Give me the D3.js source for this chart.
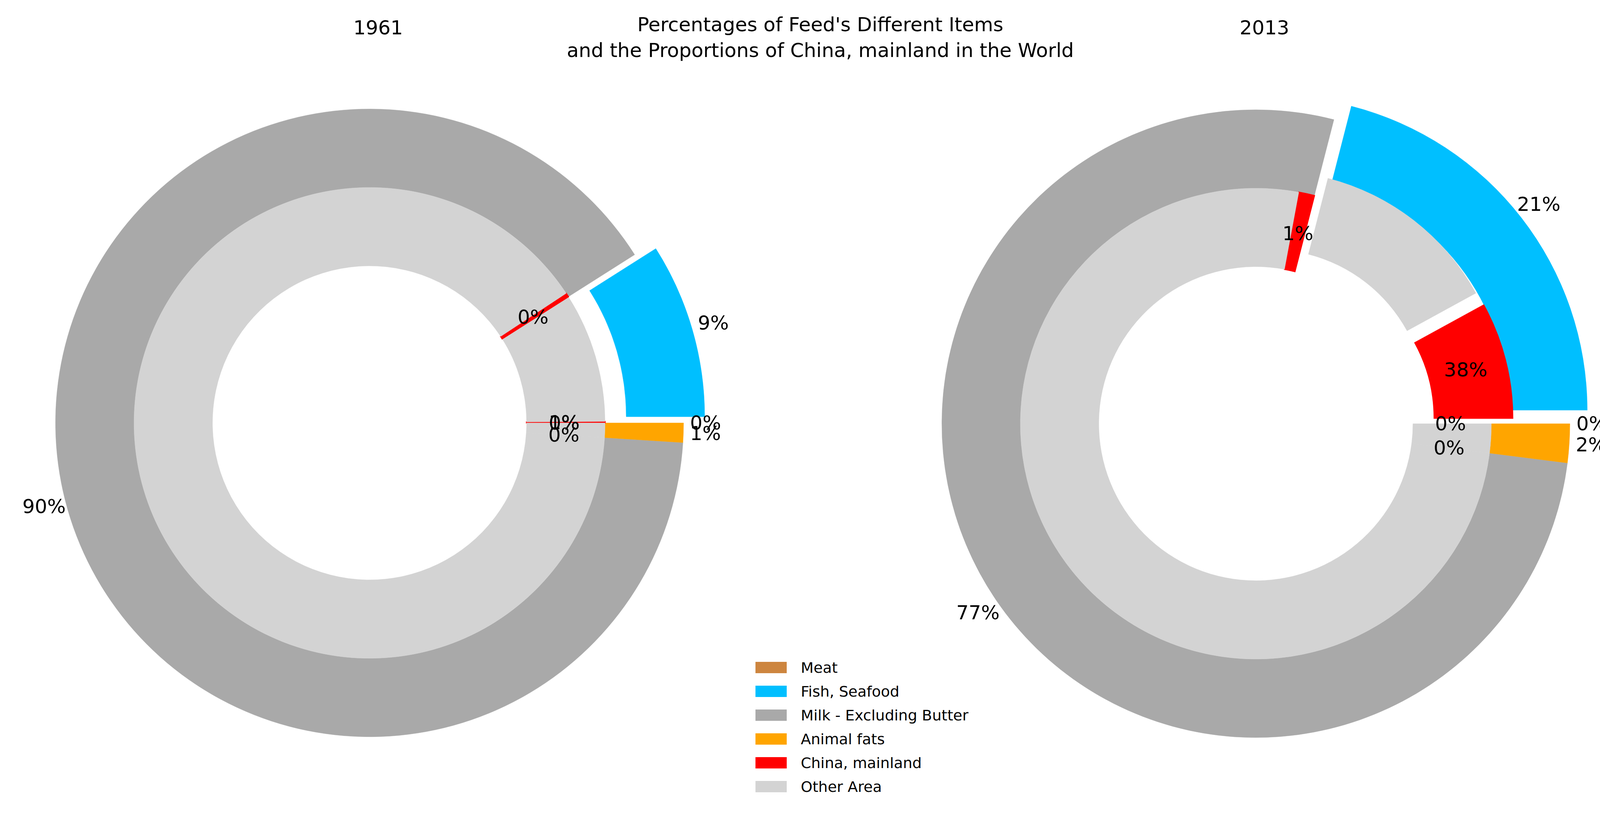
<!DOCTYPE html><html><head><meta charset="utf-8">
<script src="https://cdn.jsdelivr.net/npm/d3@7"></script>
<style>body{margin:0;background:#fff}text{font-family:"DejaVu Sans"}</style></head><body>
<script>
const items=["Meat","Fish, Seafood","Milk - Excluding Butter","Animal fats"];
const itemColors=["#CD853F","#00BFFF","#A9A9A9","#FFA500"];
const years=["1961","2013"];
const itemShares={"1961":[0,9,90,1],"2013":[0,21,77,2]};
const chinaShares={"1961":[0,1,0.3,0],"2013":[0,38,1.4,0]};
const outerExplode={"1961":[0,0.07,0,0],"2013":[0,0.07,0,0]};
const innerExplode={"1961":[0,0,0,0,0,0,0,0],"2013":[0,0,0.07,0.07,0,0,0,0]};
const legendLabels=["Meat","Fish, Seafood","Milk - Excluding Butter","Animal fats","China, mainland","Other Area"];
const legendColors=["#CD853F","#00BFFF","#A9A9A9","#FFA500","#FF0000","#D3D3D3"];

const W=4200,H=2100,R=804;
const svg=d3.select("body").append("svg").attr("width",W).attr("height",H);
svg.append("text").attr("x",2100).attr("y",80).attr("text-anchor","middle").attr("font-size",50).text("Percentages of Feed's Different Items");
svg.append("text").attr("x",2100).attr("y",146).attr("text-anchor","middle").attr("font-size",50).text("and the Proportions of China, mainland in the World");
const centers=[[946,1083],[3215,1085]];
const pie=d3.pie().sort(null).value(d=>d.v);
years.forEach((y,yi)=>{
  const [cx,cy]=centers[yi];
  const g=svg.append("g"), gl=svg.append("g");
  svg.append("text").attr("x",cx+22).attr("y",88).attr("text-anchor","middle").attr("font-size",50).text(y);
  const outer=itemShares[y].map((v,i)=>({v,c:itemColors[i],lab:v+"%",ex:outerExplode[y][i]}));
  const inner=[];
  itemShares[y].forEach((v,i)=>{const s=chinaShares[y][i];
    inner.push({v:v*s/100,c:"#FF0000",lab:Math.round(s)+"%",ex:innerExplode[y][2*i]});
    inner.push({v:v*(100-s)/100,c:"#D3D3D3",lab:null,ex:innerExplode[y][2*i+1]});});
  function draw(data,r0,r1,labR,fs){
    const arcs=pie(data);
    const arc=d3.arc().innerRadius(r0).outerRadius(r1);
    arcs.forEach(a=>{
      const mid=(a.startAngle+a.endAngle)/2;
      const ox=a.data.ex*R*Math.cos(mid), oy=-a.data.ex*R*Math.sin(mid);
      if(a.data.v>0) g.append("path").attr("transform",`translate(${cx+ox},${cy+oy})`)
        .attr("d",arc({startAngle:Math.PI/2-a.endAngle,endAngle:Math.PI/2-a.startAngle}))
        .attr("fill",a.data.c).attr("stroke",a.data.c).attr("stroke-width",a.data.c=="#FF0000"?3:0.5);
      if(a.data.lab!==null){
        gl.append("text").attr("x",cx+ox+labR*Math.cos(mid)).attr("y",cy+oy-labR*Math.sin(mid))
          .attr("text-anchor","middle").attr("dominant-baseline","central").attr("font-size",fs).text(a.data.lab);
      }
    });
  }
  draw(outer,0.75*R,R,1.07*R,50);
  draw(inner,0.5*R,0.75*R,0.62*R,50);
  gl.raise();
});
const lg=svg.append("g");
legendLabels.forEach((l,i)=>{
  const y=1710+i*61;
  lg.append("rect").attr("x",1934).attr("y",y-15).attr("width",80).attr("height",29).attr("fill",legendColors[i]);
  lg.append("text").attr("x",2050).attr("y",y).attr("dominant-baseline","central").attr("font-size",38).text(l);
});
</script></body></html>
